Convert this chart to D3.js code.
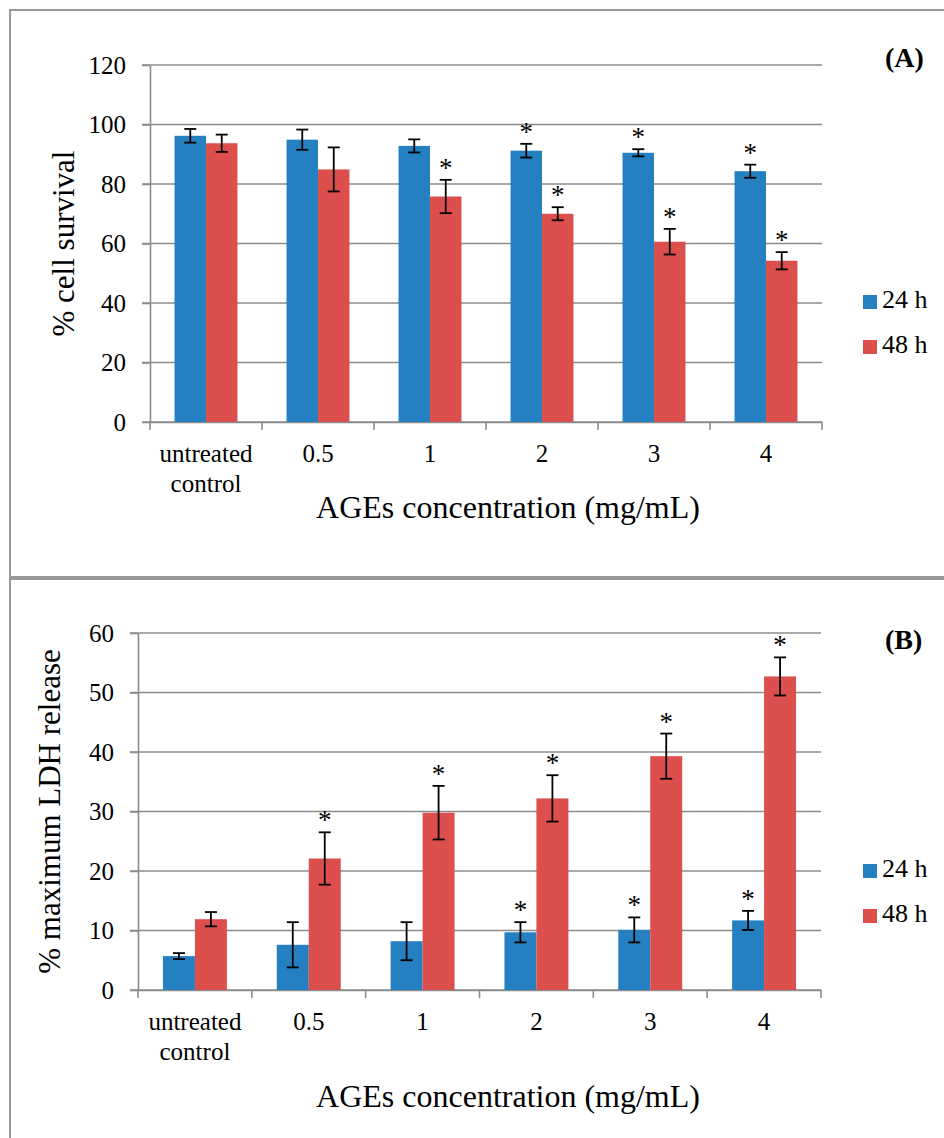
<!DOCTYPE html>
<html>
<head>
<meta charset="utf-8">
<script src="https://cdn.jsdelivr.net/npm/d3@7"></script>
<style>
  body { margin: 0; background: #fff; }
  svg { display: block; font-family: "Liberation Serif", "Times New Roman", serif; }
</style>
</head>
<body>
<div id="chart"></div>
<script>
// categories and series
const categories = ["untreated control", "0.5", "1", "2", "3", "4"];
const seriesNames = ["24 h", "48 h"];

// panel A: % cell survival
const survival24 = [96.2, 94.9, 92.8, 91.2, 90.5, 84.3];
const survival24Err = [2.3, 3.4, 2.2, 2.3, 1.2, 2.2];
const survival24Sig = [0, 0, 0, 1, 1, 1];
const survival48 = [93.7, 84.9, 75.8, 70.0, 60.6, 54.2];
const survival48Err = [2.9, 7.4, 5.6, 2.2, 4.3, 2.9];
const survival48Sig = [0, 0, 1, 1, 1, 1];
const survivalTicks = [0, 20, 40, 60, 80, 100, 120];

// panel B: % maximum LDH release
const ldh24 = [5.7, 7.6, 8.2, 9.7, 10.1, 11.7];
const ldh24Err = [0.5, 3.8, 3.2, 1.7, 2.1, 1.6];
const ldh24Sig = [0, 0, 0, 1, 1, 1];
const ldh48 = [11.9, 22.1, 29.8, 32.2, 39.3, 52.7];
const ldh48Err = [1.2, 4.4, 4.5, 3.9, 3.8, 3.2];
const ldh48Sig = [0, 1, 1, 1, 1, 1];
const ldhTicks = [0, 10, 20, 30, 40, 50, 60];

const colors = {"24 h": "#2480c1", "48 h": "#dc4f4d"};
const gridColor = "#8c8c8c";

const svg = d3.select("#chart").append("svg")
    .attr("width", 944)
    .attr("height", 1138);

// panel frames
svg.append("rect").attr("x", 10).attr("y", 10).attr("width", 1000).attr("height", 567)
    .attr("fill", "none").attr("stroke", "#999").attr("stroke-width", 2);
svg.append("rect").attr("x", 10).attr("y", 579).attr("width", 1000).attr("height", 600)
    .attr("fill", "none").attr("stroke", "#999").attr("stroke-width", 2);

function drawPanel(p) {
    const rows = categories.map((c, i) => ({
        cat: c,
        bars: [
            {s: "24 h", v: p.v24[i], e: p.e24[i], sig: p.sig24[i]},
            {s: "48 h", v: p.v48[i], e: p.e48[i], sig: p.sig48[i]}
        ]
    }));

    const x0 = d3.scaleBand().domain(categories).range([p.left, p.right]);
    const x1 = d3.scaleBand().domain(seriesNames).range([0, x0.bandwidth()]).paddingOuter(0.78);
    const y = d3.scaleLinear().domain([0, p.max]).range([p.bottom, p.top]);

    const g = svg.append("g");

    // gridlines
    g.selectAll(".grid")
        .data(p.ticks)
        .enter().append("line")
        .attr("x1", p.left - 8)
        .attr("x2", p.right)
        .attr("y1", d => y(d))
        .attr("y2", d => y(d))
        .attr("stroke", gridColor)
        .attr("stroke-width", 1.6);

    // y axis
    const yAxis = g.append("g")
        .attr("transform", `translate(${p.left},0)`)
        .call(d3.axisLeft(y).tickValues(p.ticks).tickSize(8).tickSizeOuter(0).tickPadding(16));
    yAxis.select(".domain").attr("stroke", gridColor).attr("stroke-width", 1.6);
    yAxis.selectAll(".tick line").attr("stroke", gridColor).attr("stroke-width", 1.6);
    yAxis.selectAll(".tick text")
        .attr("font-size", 25)
        .attr("font-family", "Liberation Serif")
        .attr("fill", "#000");

    // x axis with ticks between categories
    const xAxis = g.append("g")
        .attr("transform", `translate(0,${p.bottom})`)
        .call(d3.axisBottom(x0).tickSize(0).tickSizeOuter(0));
    xAxis.select(".domain").attr("stroke", gridColor).attr("stroke-width", 1.6);
    xAxis.selectAll(".tick text")
        .attr("font-size", 25)
        .attr("font-family", "Liberation Serif")
        .attr("fill", "#000")
        .attr("y", 40)
        .attr("dy", 0)
        .each(function(d) {
            const words = d.split(" ");
            const t = d3.select(this).text(null);
            words.forEach((w, i) => {
                t.append("tspan").attr("x", 0).attr("dy", i === 0 ? 0 : 30).text(w);
            });
        });
    const bounds = categories.map(c => x0(c)).concat([x0.range()[1]]);
    g.selectAll(".xtick")
        .data(bounds)
        .enter().append("line")
        .attr("x1", d => d).attr("x2", d => d)
        .attr("y1", p.bottom).attr("y2", p.bottom + 8)
        .attr("stroke", gridColor)
        .attr("stroke-width", 1.6);

    // bars
    const groups = g.selectAll(".group")
        .data(rows)
        .enter().append("g")
        .attr("transform", d => `translate(${x0(d.cat)},0)`);

    groups.selectAll("rect")
        .data(d => d.bars)
        .enter().append("rect")
        .attr("x", d => x1(d.s))
        .attr("y", d => y(d.v))
        .attr("width", x1.bandwidth())
        .attr("height", d => y(0) - y(d.v))
        .attr("fill", d => colors[d.s]);

    // error bars
    const err = groups.selectAll(".err")
        .data(d => d.bars)
        .enter().append("g")
        .attr("stroke", "#000")
        .attr("stroke-width", 1.8);
    err.append("line")
        .attr("x1", d => x1(d.s) + x1.bandwidth() / 2)
        .attr("x2", d => x1(d.s) + x1.bandwidth() / 2)
        .attr("y1", d => y(d.v - d.e))
        .attr("y2", d => y(d.v + d.e));
    err.append("line")
        .attr("x1", d => x1(d.s) + x1.bandwidth() / 2 - 6)
        .attr("x2", d => x1(d.s) + x1.bandwidth() / 2 + 6)
        .attr("y1", d => y(d.v + d.e))
        .attr("y2", d => y(d.v + d.e));
    err.append("line")
        .attr("x1", d => x1(d.s) + x1.bandwidth() / 2 - 6)
        .attr("x2", d => x1(d.s) + x1.bandwidth() / 2 + 6)
        .attr("y1", d => y(d.v - d.e))
        .attr("y2", d => y(d.v - d.e));

    // significance stars
    groups.selectAll(".star")
        .data(d => d.bars.filter(b => b.sig))
        .enter().append("text")
        .attr("x", d => x1(d.s) + x1.bandwidth() / 2)
        .attr("y", d => y(d.v + d.e) - 3)
        .attr("text-anchor", "middle")
        .attr("font-size", 27)
        .text("*");

    // axis titles
    svg.append("text")
        .attr("x", 508)
        .attr("y", p.xTitleY)
        .attr("text-anchor", "middle")
        .attr("font-size", 32)
        .text("AGEs concentration (mg/mL)");
    svg.append("text")
        .attr("transform", `translate(${p.yTitleX},${(p.top + p.bottom) / 2}) rotate(-90)`)
        .attr("text-anchor", "middle")
        .attr("font-size", 31)
        .text(p.yTitle);

    // panel label
    svg.append("text")
        .attr("x", 885)
        .attr("y", p.labelY)
        .attr("font-size", 28)
        .attr("font-weight", "bold")
        .text(`(${p.label})`);

    // legend
    const leg = svg.selectAll(null)
        .data(seriesNames)
        .enter().append("g")
        .attr("transform", (d, i) => `translate(863,${p.legendY + i * 45})`);
    leg.append("rect")
        .attr("y", -13)
        .attr("width", 14)
        .attr("height", 14)
        .attr("fill", d => colors[d]);
    leg.append("text")
        .attr("x", 19)
        .attr("y", 0)
        .attr("font-size", 26)
        .text(d => d);
}

drawPanel({
    v24: survival24, e24: survival24Err, sig24: survival24Sig,
    v48: survival48, e48: survival48Err, sig48: survival48Sig,
    ticks: survivalTicks, max: 120,
    left: 150, right: 822, top: 65, bottom: 422,
    xTitleY: 518, yTitleX: 74, yTitle: "% cell survival",
    label: "A", labelY: 67, legendY: 308
});

drawPanel({
    v24: ldh24, e24: ldh24Err, sig24: ldh24Sig,
    v48: ldh48, e48: ldh48Err, sig48: ldh48Sig,
    ticks: ldhTicks, max: 60,
    left: 138, right: 821, top: 633, bottom: 990,
    xTitleY: 1107, yTitleX: 60, yTitle: "% maximum LDH release",
    label: "B", labelY: 649, legendY: 877
});
</script>
</body>
</html>
